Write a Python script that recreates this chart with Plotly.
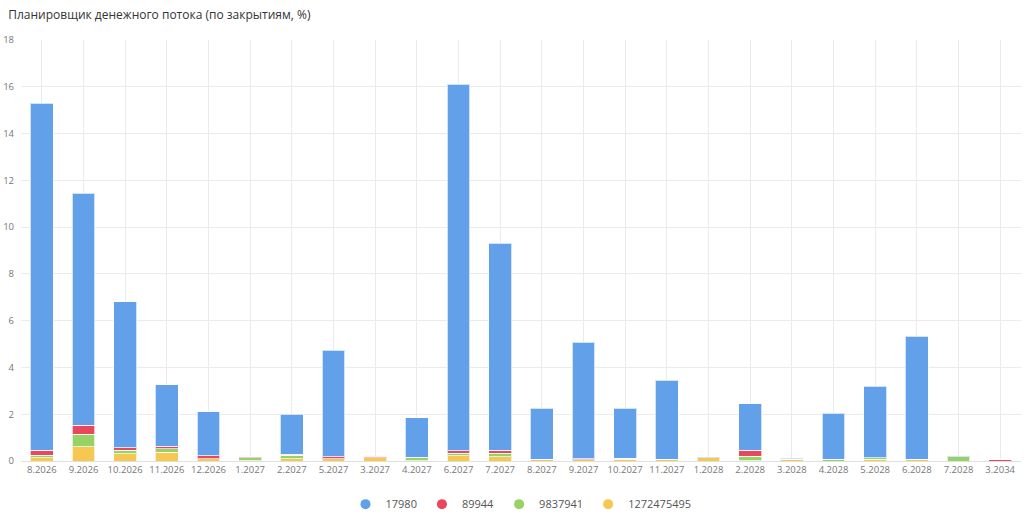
import plotly.graph_objs as go

categories = ['8.2026', '9.2026', '10.2026', '11.2026', '12.2026', '1.2027',
              '2.2027', '5.2027', '3.2027', '4.2027', '6.2027', '7.2027',
              '8.2027', '9.2027', '10.2027', '11.2027', '1.2028', '2.2028',
              '3.2028', '4.2028', '5.2028', '6.2028', '7.2028', '3.2034']

s_17980 = [14.84, 9.92, 6.24, 2.62, 1.88, 0.0, 1.72, 4.56, 0.0, 1.70,
           15.66, 8.86, 2.18, 4.99, 2.13, 3.38, 0.02, 1.98, 0.03, 1.98,
           3.05, 5.27, 0.02, 0.0]
s_89944 = [0.22, 0.39, 0.10, 0.10, 0.12, 0.05, 0.04, 0.08, 0.07, 0.0,
           0.11, 0.13, 0.0, 0.03, 0.0, 0.0, 0.0, 0.26, 0.0, 0.0,
           0.0, 0.0, 0.0, 0.06]
s_9837941 = [0.10, 0.53, 0.16, 0.15, 0.01, 0.11, 0.14, 0.0, 0.0, 0.13,
             0.10, 0.14, 0.0, 0.0, 0.05, 0.0, 0.0, 0.19, 0.0, 0.07,
             0.07, 0.0, 0.19, 0.0]
s_1272475495 = [0.14, 0.61, 0.30, 0.38, 0.09, 0.02, 0.10, 0.10, 0.13, 0.02,
                0.23, 0.19, 0.07, 0.06, 0.07, 0.08, 0.14, 0.01, 0.08, 0.0,
                0.07, 0.07, 0.0, 0.0]

series = [('1272475495', s_1272475495, '#f6c852'),
          ('9837941', s_9837941, '#97d265'),
          ('89944', s_89944, '#e8475e'),
          ('17980', s_17980, '#62a0ea')]

fig = go.Figure()
for name, values, color in series:
    fig.add_bar(x=categories, y=values, name=name, showlegend=False,
                legendgroup=name,
                marker={'color': color,
                        'line': {'color': 'rgba(255,255,255,0.7)', 'width': 1}},
                hovertemplate='%{x}: %{y}<extra>' + name + '</extra>')

# legend entries with round markers, like the original
for name, values, color in reversed(series):
    fig.add_scatter(x=[None], y=[None], mode='markers', name=name,
                    legendgroup=name,
                    marker={'color': color, 'size': 10, 'symbol': 'circle'})

fig.update_layout(
    barmode='stack',
    bargap=0.45,
    width=1024, height=514,
    paper_bgcolor='white', plot_bgcolor='white',
    font={'family': 'Open Sans, sans-serif', 'size': 10, 'color': '#777777'},
    title={'text': 'Планировщик денежного потока (по закрытиям, %)',
           'x': 0.008, 'xanchor': 'left', 'y': 0.971, 'yanchor': 'middle',
           'font': {'size': 12, 'color': '#333333'}},
    margin={'l': 21, 'r': 3, 't': 40, 'b': 53, 'autoexpand': False},
    legend={'orientation': 'h', 'x': 0.5, 'xanchor': 'center',
            'y': -0.068, 'yanchor': 'top', 'itemwidth': 30,
            'font': {'size': 11, 'color': '#555555'}},
    xaxis={'type': 'category', 'showgrid': True, 'gridcolor': '#ebebeb',
           'tickfont': {'size': 9.5}, 'tickangle': 0, 'ticks': '',
           'showline': True, 'linecolor': '#e0e0e0', 'automargin': False},
    yaxis={'range': [0, 18], 'dtick': 2, 'gridcolor': '#ebebeb',
           'zeroline': False, 'tickfont': {'size': 9.5}, 'ticks': '',
           'automargin': False, 'ticklabelstandoff': 6},
)

# page has an 8px body margin by default, drop it so the chart fills the window
fig.write_html('out.html', config={'displayModeBar': False},
               post_script="document.body.style.margin='0';")
